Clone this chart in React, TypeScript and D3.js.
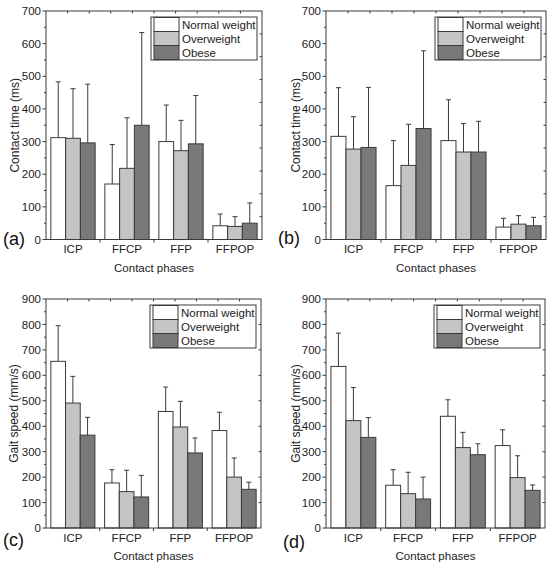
import React from "react";
import * as d3 from "d3";

const categories = ["ICP", "FFCP", "FFP", "FFPOP"];
const groups = ["Normal weight", "Overweight", "Obese"];
const fills = ["#ffffff", "#c4c4c4", "#797979"];

// (a) contact time: means and SD
const aNormal = [312, 170, 300, 42];
const aNormalSd = [171, 121, 112, 36];
const aOver = [310, 218, 272, 40];
const aOverSd = [152, 155, 93, 30];
const aObese = [296, 350, 293, 50];
const aObeseSd = [180, 284, 148, 62];

// (b)
const bNormal = [316, 165, 303, 38];
const bNormalSd = [149, 138, 125, 27];
const bOver = [277, 227, 268, 47];
const bOverSd = [99, 126, 87, 26];
const bObese = [282, 340, 268, 42];
const bObeseSd = [184, 238, 94, 26];

// (c) gait speed
const cNormal = [655, 177, 458, 383];
const cNormalSd = [140, 52, 96, 72];
const cOver = [491, 143, 397, 200];
const cOverSd = [105, 84, 101, 75];
const cObese = [365, 122, 295, 152];
const cObeseSd = [70, 85, 59, 28];

// (d)
const dNormal = [635, 168, 439, 324];
const dNormalSd = [131, 61, 65, 62];
const dOver = [422, 135, 316, 198];
const dOverSd = [130, 84, 60, 86];
const dObese = [356, 114, 288, 148];
const dObeseSd = [78, 86, 43, 21];

const ctTicks = [0, 100, 200, 300, 400, 500, 600, 700];
const gsTicks = [0, 100, 200, 300, 400, 500, 600, 700, 800, 900];

const FONT = "'Liberation Sans', Arial, Helvetica, sans-serif";
const LINE = "#3a3a3a";

type PanelProps = {
  L: number; R: number; T: number; B: number;
  ticks: number[];
  yLabel: string;
  yLabelX: number;
  letter: string;
  letterX: number;
  letterY: number;
  means: number[][];
  sds: number[][];
  rightDivs: number;
};

function Panel(p: PanelProps) {
  const { L, R, T, B, ticks } = p;
  const yMax = ticks[ticks.length - 1];
  const y = d3.scaleLinear().domain([0, yMax]).range([B, T]);
  const x = d3.scaleBand().domain(categories).range([L, R]).paddingInner(0.18).paddingOuter(0.09);
  const xg = d3.scaleBand().domain(groups).range([0, x.bandwidth()]);
  const step = x.step();
  const minorTicks = d3.range(50, yMax, 100);
  const topTicks = d3.range(1, 10).map((i) => L + ((R - L) * i) / 10);
  const rightTicks = d3.range(1, p.rightDivs).map((i) => T + ((B - T) * i) / p.rightDivs);
  const boundaries = [1, 2, 3].map((i) => L + step * i);
  const legW = 106;
  const legX = R - 5 - legW;
  const legY = T + 6;
  const rowH = 14;
  return (
    <g>
      {categories.map((c, ci) =>
        groups.map((g, gi) => {
          const x0 = (x(c) as number) + (xg(g) as number);
          const w = xg.bandwidth();
          const m = p.means[gi][ci];
          const top = m + p.sds[gi][ci];
          const cx = x0 + w / 2;
          return (
            <g key={c + g}>
              <line x1={cx} x2={cx} y1={y(m)} y2={y(top)} stroke={LINE} strokeWidth={1} />
              <line x1={cx - 2.5} x2={cx + 2.5} y1={y(top)} y2={y(top)} stroke={LINE} strokeWidth={1} />
              <rect x={x0} y={y(m)} width={w} height={B - y(m)} fill={fills[gi]} stroke={LINE} strokeWidth={1} />
            </g>
          );
        })
      )}
      <rect x={L} y={T} width={R - L} height={B - T} fill="none" stroke={LINE} strokeWidth={1} />
      {ticks.map((t) => (
        <g key={"yt" + t}>
          <line x1={L - 3.5} x2={L} y1={y(t)} y2={y(t)} stroke={LINE} />
          <text x={L - 5} y={y(t)} dy="0.36em" textAnchor="end" fontSize={11.5} fontFamily={FONT} fill="#222">
            {t}
          </text>
        </g>
      ))}
      {minorTicks.map((t) => (
        <line key={"ym" + t} x1={L - 2} x2={L} y1={y(t)} y2={y(t)} stroke={LINE} />
      ))}
      {topTicks.map((tx, i) => (
        <line key={"tt" + i} x1={tx} x2={tx} y1={T} y2={T + 2.5} stroke={LINE} />
      ))}
      {rightTicks.map((ty, i) => (
        <line key={"rt" + i} x1={R - 2.5} x2={R} y1={ty} y2={ty} stroke={LINE} />
      ))}
      {boundaries.map((bx, i) => (
        <line key={"bt" + i} x1={bx} x2={bx} y1={B} y2={B + 3} stroke={LINE} />
      ))}
      {categories.map((c) => (
        <text key={"xl" + c} x={(x(c) as number) + x.bandwidth() / 2} y={B + 13.5} textAnchor="middle" fontSize={11.5} fontFamily={FONT} fill="#222">
          {c}
        </text>
      ))}
      <text x={(L + R) / 2} y={B + 32} textAnchor="middle" fontSize={11.5} fontFamily={FONT} fill="#222">
        Contact phases
      </text>
      <text
        transform={`translate(${p.yLabelX},${(T + B) / 2}) rotate(-90)`}
        textAnchor="middle"
        dy="0.35em"
        fontSize={12}
        fontFamily={FONT}
        fill="#222"
      >
        {p.yLabel}
      </text>
      <text x={p.letterX} y={p.letterY} fontSize={18} fontFamily={FONT} fill="#111">
        {p.letter}
      </text>
      <rect x={legX} y={legY} width={legW} height={rowH * 3 + 1} fill="#fff" stroke={LINE} strokeWidth={1} />
      {groups.map((g, gi) => (
        <g key={"lg" + g}>
          <rect x={legX + 3} y={legY + 0.5 + gi * rowH} width={25} height={rowH} fill={fills[gi]} stroke={LINE} strokeWidth={1} />
          <text x={legX + 31} y={legY + 0.5 + gi * rowH + rowH / 2} dy="0.36em" fontSize={11.5} fontFamily={FONT} fill="#222">
            {g}
          </text>
        </g>
      ))}
    </g>
  );
}

export default function App() {
  return (
    <div style={{ position: "absolute", left: 0, top: 0, width: 550, height: 566, background: "#fff" }}>
      <svg width={550} height={566} viewBox="0 0 550 566" style={{ display: "block" }}>
        <rect x={0} y={0} width={550} height={566} fill="#fff" />
        <Panel
          L={46} R={262} T={11} B={239.5}
          ticks={ctTicks}
          yLabel="Contact time (ms)"
          yLabelX={15}
          letter="(a)" letterX={3} letterY={245}
          means={[aNormal, aOver, aObese]}
          sds={[aNormalSd, aOverSd, aObeseSd]}
          rightDivs={10}
        />
        <Panel
          L={326} R={546} T={11} B={239.5}
          ticks={ctTicks}
          yLabel="Contact time (ms)"
          yLabelX={296}
          letter="(b)" letterX={278} letterY={244}
          means={[bNormal, bOver, bObese]}
          sds={[bNormalSd, bOverSd, bObeseSd]}
          rightDivs={10}
        />
        <Panel
          L={46} R={261} T={299} B={528}
          ticks={gsTicks}
          yLabel="Gait speed (mm/s)"
          yLabelX={14}
          letter="(c)" letterX={3} letterY={546}
          means={[cNormal, cOver, cObese]}
          sds={[cNormalSd, cOverSd, cObeseSd]}
          rightDivs={9}
        />
        <Panel
          L={326} R={545} T={299} B={528}
          ticks={gsTicks}
          yLabel="Gait speed (mm/s)"
          yLabelX={296}
          letter="(d)" letterX={283} letterY={548}
          means={[dNormal, dOver, dObese]}
          sds={[dNormalSd, dOverSd, dObeseSd]}
          rightDivs={9}
        />
      </svg>
    </div>
  );
}
